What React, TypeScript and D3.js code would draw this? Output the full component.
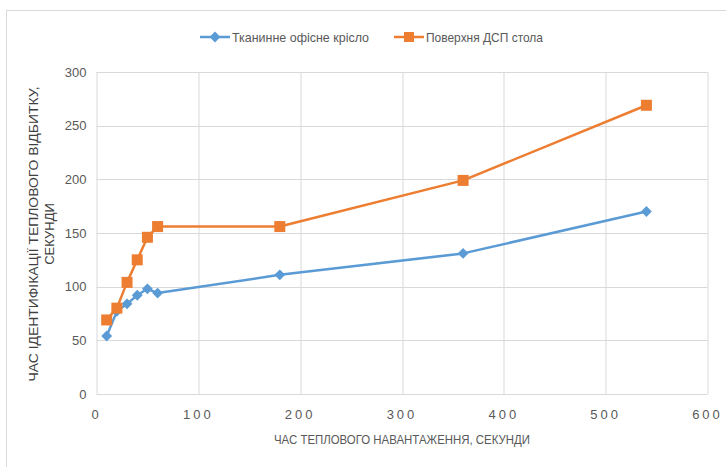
import React, { useEffect, useRef } from 'react';
import * as d3 from 'd3';

// heat load time, seconds
const loadTimes = [10, 20, 30, 40, 50, 60, 180, 360, 540];
const fabricChair = [54, 77, 84, 92, 98, 94, 111, 131, 170];
const chipboardDesk = [69, 80, 104, 125, 146, 156, 156, 199, 269];

const seriesNames = ['Тканинне офісне крісло', 'Поверхня ДСП стола'];
const seriesColors = ['#5b9bd5', '#ed7d31'];

const xTicks = [0, 100, 200, 300, 400, 500, 600];
const yTicks = [0, 50, 100, 150, 200, 250, 300];

const xTitle = 'ЧАС ТЕПЛОВОГО НАВАНТАЖЕННЯ, СЕКУНДИ';
const yTitleLines = ['ЧАС ІДЕНТИФІКАЦІЇ ТЕПЛОВОГО ВІДБИТКУ,', 'СЕКУНДИ'];

const FONT = '"Liberation Sans", Arial, sans-serif';
const TEXT = '#595959';

const App = () => {
    const ref = useRef<SVGSVGElement | null>(null);

    useEffect(() => {
        const svg = d3.select(ref.current);
        svg.selectAll('*').remove();

        const margin = { top: 72, left: 96.5, right: 726 - 707.5, bottom: 467 - 394 };
        const width = 726 - margin.left - margin.right;
        const height = 467 - margin.top - margin.bottom;

        // chart frame
        svg.append('rect')
            .attr('x', 6.5).attr('y', 10.5)
            .attr('width', 740).attr('height', 480)
            .attr('fill', '#fff')
            .attr('stroke', '#d9d9d9');

        const x = d3.scaleLinear().domain([0, 600]).range([0, width]);
        const y = d3.scaleLinear().domain([0, 300]).range([height, 0]);

        const g = svg.append('g').attr('transform', `translate(${margin.left},${margin.top})`);

        // grid
        g.append('g')
            .selectAll('line')
            .data(yTicks)
            .enter().append('line')
            .attr('x1', 0).attr('x2', width)
            .attr('y1', d => Math.round(y(d)) + 0.5).attr('y2', d => Math.round(y(d)) + 0.5)
            .attr('stroke', '#d9d9d9');
        g.append('g')
            .selectAll('line')
            .data(xTicks)
            .enter().append('line')
            .attr('y1', 0).attr('y2', height)
            .attr('x1', d => Math.round(x(d)) + 0.5).attr('x2', d => Math.round(x(d)) + 0.5)
            .attr('stroke', '#d9d9d9');

        // tick labels
        g.append('g')
            .selectAll('text')
            .data(yTicks)
            .enter().append('text')
            .attr('x', -10)
            .attr('y', d => y(d))
            .attr('dy', '0.35em')
            .attr('text-anchor', 'end')
            .style('font-family', FONT)
            .style('font-size', '13px')
            .style('fill', TEXT)
            .text(d => d);
        g.append('g')
            .selectAll('text')
            .data(xTicks)
            .enter().append('text')
            .attr('x', d => x(d))
            .attr('y', height + 20)
            .attr('dy', '0.35em')
            .attr('text-anchor', 'middle')
            .style('font-family', FONT)
            .style('font-size', '13px')
            .style('letter-spacing', '3px')
            .style('fill', TEXT)
            .text(d => d);

        // axis titles
        svg.append('text')
            .attr('x', 402)
            .attr('y', 444)
            .attr('text-anchor', 'middle')
            .attr('textLength', 256)
            .attr('lengthAdjust', 'spacingAndGlyphs')
            .style('font-family', FONT)
            .style('font-size', '13px')
            .style('fill', TEXT)
            .text(xTitle);

        yTitleLines.forEach((t, i) => {
            const txt = svg.append('text')
                .attr('transform', `translate(${38 + i * 16},234) rotate(-90)`)
                .attr('text-anchor', 'middle')
                .style('font-family', FONT)
                .style('font-size', '13px')
                .style('fill', '#404040')
                .text(t);
            if (i === 0) txt.attr('textLength', 295).attr('lengthAdjust', 'spacingAndGlyphs');
        });

        const series = [fabricChair, chipboardDesk];
        const line = d3.line<number>()
            .x((_, i) => x(loadTimes[i]))
            .y(d => y(d));

        series.forEach((vals, si) => {
            g.append('path')
                .datum(vals)
                .attr('fill', 'none')
                .attr('stroke', seriesColors[si])
                .attr('stroke-width', 2.5)
                .attr('stroke-linejoin', 'round')
                .attr('d', line);
        });

        // markers
        const diamond = d3.symbol().type(d3.symbolDiamond2).size(75)();
        g.append('g')
            .selectAll('path')
            .data(fabricChair)
            .enter().append('path')
            .attr('transform', (d, i) => `translate(${x(loadTimes[i])},${y(d)})`)
            .attr('d', diamond)
            .attr('fill', seriesColors[0]);

        g.append('g')
            .selectAll('rect')
            .data(chipboardDesk)
            .enter().append('rect')
            .attr('x', (d, i) => x(loadTimes[i]) - 5.5)
            .attr('y', d => y(d) - 5.5)
            .attr('width', 11).attr('height', 11)
            .attr('fill', seriesColors[1]);

        // legend
        const legend = svg.append('g').attr('transform', 'translate(200,37)');
        const legendX = [0, 194];
        const legendLen = [137, 117];
        seriesNames.forEach((name, i) => {
            const lg = legend.append('g').attr('transform', `translate(${legendX[i]},0)`);
            lg.append('line')
                .attr('x1', 0).attr('x2', 30).attr('y1', 0).attr('y2', 0)
                .attr('stroke', seriesColors[i]).attr('stroke-width', 2.5);
            if (i === 0) {
                lg.append('path').attr('transform', 'translate(15,0)').attr('d', diamond).attr('fill', seriesColors[i]);
            } else {
                lg.append('rect').attr('x', 10).attr('y', -5).attr('width', 10).attr('height', 10).attr('fill', seriesColors[i]);
            }
            lg.append('text')
                .attr('x', 32)
                .attr('dy', '0.35em')
                .attr('textLength', legendLen[i])
                .attr('lengthAdjust', 'spacingAndGlyphs')
                .style('font-family', FONT)
                .style('font-size', '13px')
                .style('fill', TEXT)
                .text(name);
        });
    }, []);

    return (
        <svg ref={ref} width={726} height={467} style={{ position: 'absolute', left: 0, top: 0 }} />
    );
};

export default App;
